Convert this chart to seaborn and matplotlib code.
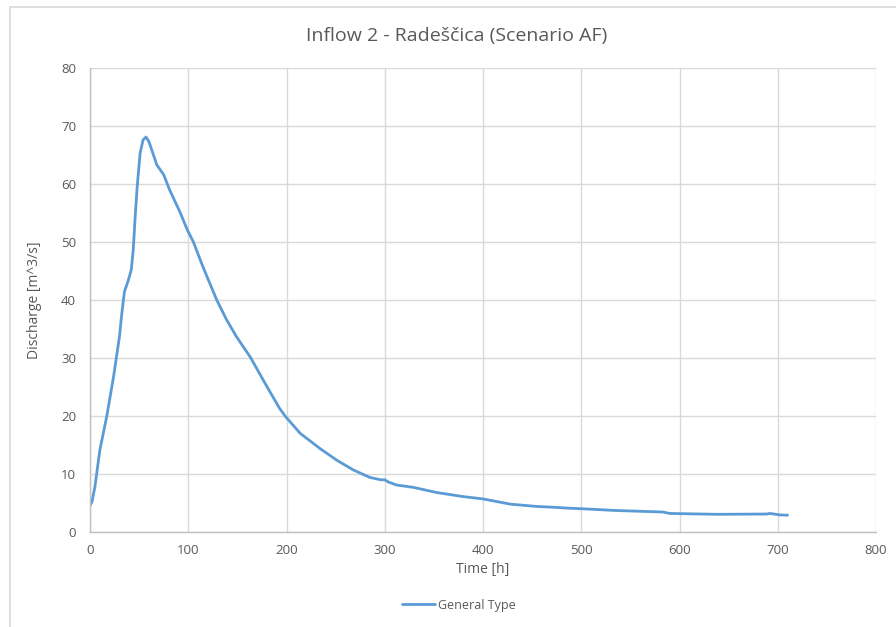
import matplotlib
matplotlib.use("Agg")
import matplotlib.pyplot as plt
import seaborn as sns
import pandas as pd
from matplotlib.patches import Rectangle
from matplotlib.lines import Line2D

time_h = [0, 2, 5, 10, 17, 24, 30, 32, 35, 39, 42, 44, 46, 48, 51, 54, 57, 60, 64, 68,
          75, 81, 92, 99, 105, 115, 129, 139, 149, 163, 180, 193, 199, 214, 234, 251,
          268, 285, 296, 300, 304, 312, 329, 353, 380, 400, 428, 455, 468, 488, 502,
          536, 583, 590, 638, 689, 692, 702, 710]
discharge = [4.6, 5.2, 7.8, 14.1, 19.9, 26.8, 33.7, 37.1, 41.4, 43.4, 45.2, 48.6, 54.4,
             59.5, 65.3, 67.6, 68.1, 67.3, 65.3, 63.3, 61.6, 59.0, 55.0, 52.1, 50.1, 45.7,
             40.0, 36.6, 33.7, 30.2, 25.1, 21.3, 19.9, 17.0, 14.4, 12.4, 10.7, 9.4, 9.0,
             9.0, 8.6, 8.1, 7.7, 6.8, 6.1, 5.7, 4.8, 4.4, 4.3, 4.1, 4.0, 3.7, 3.45, 3.2,
             3.05, 3.1, 3.2, 2.95, 2.9]
series_name = "General Type"
title = "Inflow 2 - Radeščica (Scenario AF)"
x_label = "Time [h]"
y_label = "Discharge [m^3/s]"
x_ticks = [0, 100, 200, 300, 400, 500, 600, 700, 800]
y_ticks = [0, 10, 20, 30, 40, 50, 60, 70, 80]

df = pd.DataFrame({"Time": time_h, "Discharge": discharge, "Series": series_name})

sns.set_theme(style="white")
plt.rcParams["font.family"] = ["Open Sans", "DejaVu Sans"]

fig = plt.figure(figsize=(8.96, 6.27), dpi=100)
ax = fig.add_axes([90 / 896, 1 - 532 / 627, (876 - 90) / 896, (532 - 68) / 627])

sns.lineplot(data=df, x="Time", y="Discharge", hue="Series", palette=["#5B9BD5"],
             linewidth=2.0, ax=ax, legend=False)

ax.set_xlim(0, 800)
ax.set_ylim(0, 80)
ax.set_xticks(x_ticks)
ax.set_yticks(y_ticks)
ax.tick_params(axis="y", labelsize=9.5, colors="#595959", length=0, pad=10)
ax.tick_params(axis="x", labelsize=9.5, colors="#595959", length=0, pad=9)
ax.grid(True, color="#D9D9D9", linewidth=1)
for s in ["top", "right"]:
    ax.spines[s].set_visible(False)
for s in ["left", "bottom"]:
    ax.spines[s].set_color("#BFBFBF")
    ax.spines[s].set_linewidth(1)
ax.set_xlabel(x_label, fontsize=10, color="#595959", labelpad=3)
ax.set_ylabel(y_label, fontsize=10, color="#595959", labelpad=14)

fig.text(457 / 896, 1 - 36 / 627, title, ha="center", va="center", fontsize=14, color="#595959")

handle = Line2D([0], [0], color="#5B9BD5", linewidth=2.0)
fig.legend([handle], [series_name], loc="center", bbox_to_anchor=(459 / 896, 1 - 605 / 627),
           frameon=False, fontsize=9, labelcolor="#595959", handlelength=2.6, handletextpad=0.3)

fig.patches.append(Rectangle((10 / 896, -0.1), 1.0, 1 - 7 / 627 + 0.1, transform=fig.transFigure,
                             fill=False, edgecolor="#D9D9D9", linewidth=1.2))

fig.savefig("out.png", dpi=100, facecolor="white")
